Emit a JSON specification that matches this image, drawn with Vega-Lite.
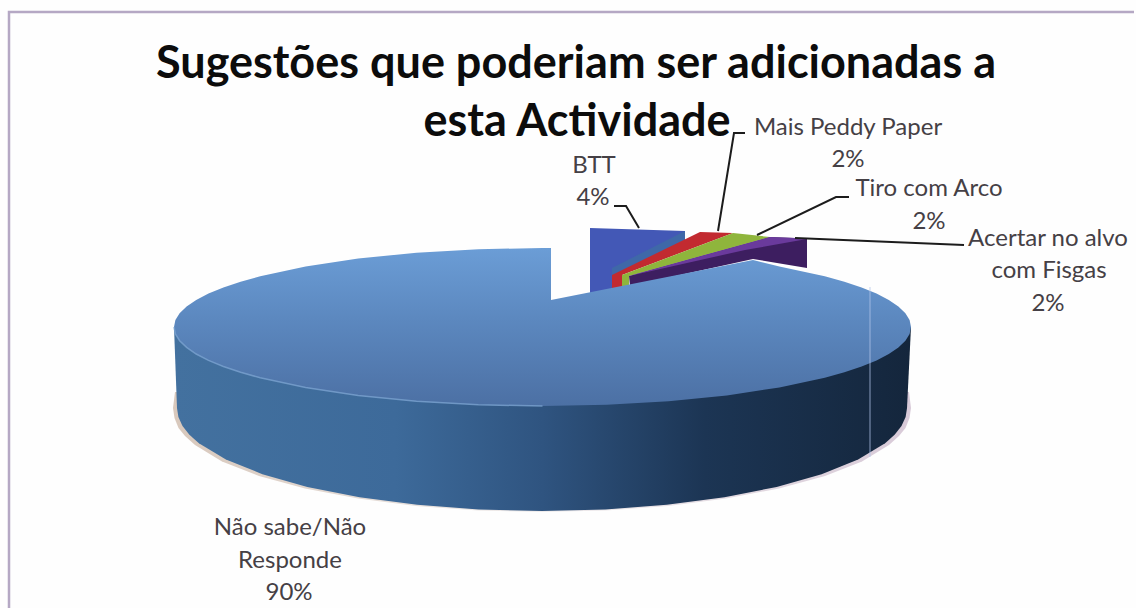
{
"$schema":"https://vega.github.io/schema/vega-lite/v6.json",
"width":1136,"height":608,"autosize":{"type":"none","contains":"padding"},"padding":0,
"background":"#fefefe",
"config":{"view":{"stroke":null}},
"datasets":{
"wedges":[
{"part":"BTT","i":1,"x":590,"y":228},{"part":"BTT","i":2,"x":685,"y":231},{"part":"BTT","i":3,"x":685,"y":238},{"part":"BTT","i":4,"x":612,"y":272},{"part":"BTT","i":5,"x":612,"y":292},{"part":"BTT","i":6,"x":590,"y":294},
{"part":"BTT edge","i":1,"x":685,"y":231},{"part":"BTT edge","i":2,"x":685,"y":240},{"part":"BTT edge","i":3,"x":612,"y":280},{"part":"BTT edge","i":4,"x":612,"y":268},
{"part":"Mais Peddy Paper","i":1,"x":700,"y":232},{"part":"Mais Peddy Paper","i":2,"x":733,"y":233},{"part":"Mais Peddy Paper","i":3,"x":622,"y":275},{"part":"Mais Peddy Paper","i":4,"x":622,"y":288},{"part":"Mais Peddy Paper","i":5,"x":612,"y":289},{"part":"Mais Peddy Paper","i":6,"x":612,"y":275},
{"part":"Tiro com Arco","i":1,"x":733,"y":233},{"part":"Tiro com Arco","i":2,"x":770,"y":237},{"part":"Tiro com Arco","i":3,"x":629,"y":276},{"part":"Tiro com Arco","i":4,"x":629,"y":286},{"part":"Tiro com Arco","i":5,"x":622,"y":288},{"part":"Tiro com Arco","i":6,"x":622,"y":275},
{"part":"Fisgas side","i":1,"x":629,"y":276},{"part":"Fisgas side","i":2,"x":770,"y":237},{"part":"Fisgas side","i":3,"x":795,"y":238},{"part":"Fisgas side","i":4,"x":807,"y":239},{"part":"Fisgas side","i":5,"x":807,"y":268},{"part":"Fisgas side","i":6,"x":753,"y":259},{"part":"Fisgas side","i":7,"x":630,"y":286},
{"part":"Fisgas top","i":1,"x":629,"y":276},{"part":"Fisgas top","i":2,"x":770,"y":237},{"part":"Fisgas top","i":3,"x":795,"y":238},{"part":"Fisgas top","i":4,"x":807,"y":239},{"part":"Fisgas top","i":5,"x":745,"y":250}
],
"shadow":[
{"i":1,"x":175,"y":392},{"i":2,"x":173,"y":408},{"i":3,"x":174.5,"y":418},{"i":4,"x":178.5,"y":428},{"i":5,"x":185,"y":436},{"i":6,"x":195,"y":445},{"i":7,"x":222,"y":461.5},{"i":8,"x":259,"y":476},{"i":9,"x":305,"y":488.5},{"i":10,"x":358,"y":498.5},{"i":11,"x":416,"y":506},{"i":12,"x":478,"y":510.5},{"i":13,"x":542,"y":512},{"i":14,"x":606,"y":510.5},{"i":15,"x":668,"y":506},{"i":16,"x":726,"y":498.5},{"i":17,"x":779,"y":488.5},{"i":18,"x":825,"y":476},{"i":19,"x":862,"y":461.5},{"i":20,"x":889,"y":445},{"i":21,"x":899,"y":436},{"i":22,"x":905.5,"y":428},{"i":23,"x":909.5,"y":418},{"i":24,"x":911,"y":408},{"i":25,"x":909,"y":392}
],
"side":[
{"i":1,"x":174,"y":327},{"i":2,"x":177,"y":408},{"i":3,"x":178.4,"y":417},{"i":4,"x":182.5,"y":425.9},{"i":5,"x":189.4,"y":434.7},{"i":6,"x":198.9,"y":443.2},{"i":7,"x":225.9,"y":459.5},{"i":8,"x":262.4,"y":474.2},{"i":9,"x":307.3,"y":486.9},{"i":10,"x":359.5,"y":497.2},{"i":11,"x":417.2,"y":504.8},{"i":12,"x":478.5,"y":509.4},{"i":13,"x":542,"y":511},{"i":14,"x":605.5,"y":509.4},{"i":15,"x":666.8,"y":504.8},{"i":16,"x":724.5,"y":497.2},{"i":17,"x":776.7,"y":486.9},{"i":18,"x":821.6,"y":474.2},{"i":19,"x":858.1,"y":459.5},{"i":20,"x":885.1,"y":443.2},{"i":21,"x":894.6,"y":434.7},{"i":22,"x":901.5,"y":425.9},{"i":23,"x":905.6,"y":417},{"i":24,"x":907,"y":408},{"i":25,"x":911,"y":327}
],
"top":[
{"i":1,"x":551,"y":300},{"i":2,"x":551,"y":248},{"i":3,"x":542.5,"y":248},{"i":4,"x":478.4,"y":249.2},{"i":5,"x":416.5,"y":252.7},{"i":6,"x":358.2,"y":258.6},{"i":7,"x":305.6,"y":266.5},{"i":8,"x":260.2,"y":276.2},{"i":8.5,"x":240.6,"y":281.7},{"i":9,"x":223.4,"y":287.5},{"i":9.5,"x":208.5,"y":293.6},{"i":10,"x":196.2,"y":300},{"i":10.5,"x":186.6,"y":306.6},{"i":11,"x":179.6,"y":313.3},{"i":11.5,"x":175.4,"y":320.1},{"i":12,"x":174,"y":327},{"i":12.5,"x":175.4,"y":333.9},{"i":13,"x":179.6,"y":340.7},{"i":13.5,"x":186.6,"y":347.4},{"i":14,"x":196.2,"y":354},{"i":14.5,"x":208.5,"y":360.4},{"i":15,"x":223.4,"y":366.5},{"i":15.5,"x":240.6,"y":372.3},{"i":16,"x":260.2,"y":377.8},{"i":17,"x":305.6,"y":387.5},{"i":18,"x":358.2,"y":395.4},{"i":19,"x":416.5,"y":401.3},{"i":20,"x":478.4,"y":404.8},{"i":21,"x":542.5,"y":406},{"i":22,"x":606.6,"y":404.8},{"i":23,"x":668.5,"y":401.3},{"i":24,"x":726.8,"y":395.4},{"i":25,"x":779.4,"y":387.5},{"i":26,"x":824.8,"y":377.8},{"i":26.5,"x":844.4,"y":372.3},{"i":27,"x":861.6,"y":366.5},{"i":27.5,"x":876.5,"y":360.4},{"i":28,"x":888.8,"y":354},{"i":28.5,"x":898.4,"y":347.4},{"i":29,"x":905.4,"y":340.7},{"i":29.5,"x":909.6,"y":333.9},{"i":30,"x":911,"y":327},{"i":30.5,"x":909.6,"y":320.1},{"i":31,"x":905.4,"y":313.3},{"i":31.5,"x":898.4,"y":306.6},{"i":32,"x":888.8,"y":300},{"i":32.5,"x":876.5,"y":293.6},{"i":33,"x":861.6,"y":287.5},{"i":33.5,"x":844.4,"y":281.7},{"i":34,"x":824.8,"y":276.2},{"i":35,"x":779.4,"y":266.5},{"i":36,"x":753,"y":260},{"i":37,"x":551,"y":300}
],
"rim":[
{"i":1,"x":174,"y":327},{"i":2,"x":175.4,"y":333.9},{"i":3,"x":179.6,"y":340.7},{"i":4,"x":186.6,"y":347.4},{"i":5,"x":196.2,"y":354},{"i":6,"x":208.5,"y":360.4},{"i":7,"x":223.4,"y":366.5},{"i":8,"x":240.6,"y":372.3},{"i":9,"x":260.2,"y":377.8},{"i":10,"x":305.6,"y":387.5},{"i":11,"x":358.2,"y":395.4},{"i":12,"x":416.5,"y":401.3},{"i":13,"x":478.4,"y":404.8},{"i":14,"x":542.5,"y":406}
],
"streak":[{"i":1,"x":870,"y":287},{"i":2,"x":870,"y":457}],
"leaders":[
{"slice":"BTT","i":1,"x":614,"y":206},{"slice":"BTT","i":2,"x":626,"y":206},{"slice":"BTT","i":3,"x":639,"y":228},
{"slice":"Mais Peddy Paper","i":1,"x":745,"y":133},{"slice":"Mais Peddy Paper","i":2,"x":734,"y":133},{"slice":"Mais Peddy Paper","i":3,"x":718,"y":231},
{"slice":"Tiro com Arco","i":1,"x":849,"y":197},{"slice":"Tiro com Arco","i":2,"x":836,"y":197},{"slice":"Tiro com Arco","i":3,"x":757,"y":235},
{"slice":"Acertar no alvo com Fisgas","i":1,"x":795,"y":238},{"slice":"Acertar no alvo com Fisgas","i":2,"x":964,"y":245}
],
"frame":[
{"edge":"frame","i":1,"x":9,"y":608},{"edge":"frame","i":2,"x":9,"y":12},{"edge":"frame","i":3,"x":1134,"y":12}
],
"title":[
{"text":"Sugestões que poderiam ser adicionadas a","x":576,"y":64},
{"text":"esta Actividade","x":577,"y":122}
],
"labels":[
{"text":"BTT","x":594,"y":166},{"text":"4%","x":593,"y":198},
{"text":"Mais Peddy Paper","x":848,"y":128},{"text":"2%","x":848,"y":160},
{"text":"Tiro com Arco","x":929,"y":189},{"text":"2%","x":929,"y":222},
{"text":"Acertar no alvo","x":1048,"y":239},{"text":"com Fisgas","x":1049,"y":271},{"text":"2%","x":1048,"y":304},
{"text":"Não sabe/Não","x":290,"y":528},{"text":"Responde","x":290,"y":561},{"text":"90%","x":289,"y":593}
]
},
"encoding":{
"x":{"field":"x","type":"quantitative","scale":{"domain":[0,1136]},"axis":null},
"y":{"field":"y","type":"quantitative","scale":{"domain":[608,0]},"axis":null}
},
"layer":[
{"data":{"name":"frame"},"mark":{"type":"line","stroke":"#b5a8c4","strokeWidth":2.5,"interpolate":"linear"},"encoding":{"order":{"field":"i"}}},
{"data":{"name":"shadow"},"mark":{"type":"line","strokeWidth":0,"fill":{"gradient":"linear","x1":0,"x2":1,"y1":0,"y2":0,"stops":[{"offset":0,"color":"#d8c8bc"},{"offset":0.5,"color":"#efecec"},{"offset":1,"color":"#d8cad8"}]}},"encoding":{"order":{"field":"i"}}},
{"data":{"name":"wedges"},"mark":{"type":"line","strokeWidth":0},"encoding":{"order":{"field":"i"},"detail":{"field":"part"},"fill":{"field":"part","type":"nominal","legend":null,"scale":{"domain":["BTT","BTT edge","Mais Peddy Paper","Tiro com Arco","Fisgas side","Fisgas top"],"range":["#4358b6","#3f68a8","#c22a30","#8fb53c","#3d1e60","#6a3a9c"]}}}},
{"data":{"name":"side"},"mark":{"type":"line","strokeWidth":0,"fill":{"gradient":"linear","x1":0,"x2":1,"y1":0,"y2":0,"stops":[{"offset":0,"color":"#43719f"},{"offset":0.3,"color":"#3d6a9a"},{"offset":0.5,"color":"#2f5480"},{"offset":0.72,"color":"#1c3554"},{"offset":1,"color":"#14263c"}]}},"encoding":{"order":{"field":"i"}}},
{"data":{"name":"top"},"mark":{"type":"line","strokeWidth":0,"fill":{"gradient":"linear","x1":0,"x2":0,"y1":0,"y2":1,"stops":[{"offset":0,"color":"#6b9dd6"},{"offset":0.45,"color":"#5c88bf"},{"offset":1,"color":"#4c70a4"}]}},"encoding":{"order":{"field":"i"}}},
{"data":{"name":"rim"},"mark":{"type":"line","stroke":"#7ba3d0","strokeWidth":1.5,"opacity":0.8},"encoding":{"order":{"field":"i"}}},
{"data":{"name":"streak"},"mark":{"type":"line","stroke":"#b4c6ec","strokeWidth":1.5,"opacity":0.5},"encoding":{"order":{"field":"i"}}},
{"data":{"name":"leaders"},"mark":{"type":"line","stroke":"#1c1c1c","strokeWidth":2},"encoding":{"order":{"field":"i"},"detail":{"field":"slice"}}},
{"data":{"name":"title"},"mark":{"type":"text","font":"Lato","fontWeight":"bold","fontSize":45,"fill":"#0c0c0c","align":"center","baseline":"middle"},"encoding":{"text":{"field":"text"}}},
{"data":{"name":"labels"},"mark":{"type":"text","font":"Lato","fontSize":24,"fill":"#454045","align":"center","baseline":"middle"},"encoding":{"text":{"field":"text"}}}
]
}
